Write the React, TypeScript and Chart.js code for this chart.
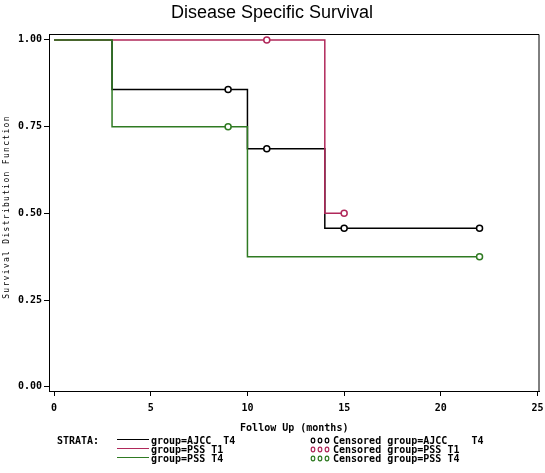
import React, { useEffect, useRef } from "react";
import { Chart, registerables } from "chart.js";

Chart.register(...registerables);

const TITLE = "Disease Specific Survival";
const X_TITLE = "Follow Up (months)";
const Y_TITLE = "Survival Distribution Function";
const X_TICKS = [0, 5, 10, 15, 20, 25];
const Y_TICKS = [0, 0.25, 0.5, 0.75, 1.0];

// Kaplan-Meier step curves (time, survival)
const AJCC_T4_TIMES = [0, 3, 10, 14, 22];
const AJCC_T4_SURV = [1.0, 0.857, 0.686, 0.457, 0.457];
const PSS_T1_TIMES = [0, 14, 15];
const PSS_T1_SURV = [1.0, 0.5, 0.5];
const PSS_T4_TIMES = [0, 3, 10, 22];
const PSS_T4_SURV = [1.0, 0.75, 0.375, 0.375];

// Censored observations
const AJCC_T4_CENS_T = [9, 11, 15, 22];
const AJCC_T4_CENS_S = [0.857, 0.686, 0.457, 0.457];
const PSS_T1_CENS_T = [11, 15];
const PSS_T1_CENS_S = [1.0, 0.5];
const PSS_T4_CENS_T = [9, 22];
const PSS_T4_CENS_S = [0.75, 0.375];

const STRATA = ["group=AJCC  T4", "group=PSS T1", "group=PSS T4"];
const CENSORED_LABELS = ["Censored group=AJCC    T4", "Censored group=PSS T1", "Censored group=PSS T4"];
const COLORS = ["#000000", "#b0285a", "#2f7a22"];

const pts = (xs: number[], ys: number[]) => xs.map((x, i) => ({ x, y: ys[i] }));

const MONO = '"DejaVu Sans Mono", monospace';

const decor = {
  id: "decor",
  afterDraw(chart: any) {
    const ctx = chart.ctx;
    const a = chart.chartArea;
    ctx.save();
    // box top/right
    ctx.strokeStyle = "#000";
    ctx.lineWidth = 1;
    ctx.beginPath();
    ctx.moveTo(a.left, a.top + 0.5);
    ctx.lineTo(a.right - 0.5, a.top + 0.5);
    ctx.lineTo(a.right - 0.5, a.bottom);
    ctx.stroke();

    // title
    ctx.fillStyle = "#000";
    ctx.font = '18px "Liberation Sans", Arial, sans-serif';
    ctx.textAlign = "center";
    ctx.textBaseline = "middle";
    ctx.fillText(TITLE, 272, 13);

    // x title
    ctx.font = "bold 10px " + MONO;
    ctx.fillText(X_TITLE, (a.left + a.right) / 2, 428);

    // y title
    ctx.save();
    ctx.translate(7, 207);
    ctx.rotate(-Math.PI / 2);
    ctx.font = "8px " + MONO;
    (ctx as any).letterSpacing = "1.3px";
    ctx.fillText(Y_TITLE, 0, 0);
    ctx.restore();

    // legend
    ctx.textAlign = "left";
    ctx.font = "bold 10px " + MONO;
    ctx.fillText("STRATA:", 57, 441);
    const rows = [441, 450, 459];
    rows.forEach((y, i) => {
      ctx.strokeStyle = COLORS[i];
      ctx.lineWidth = 1;
      ctx.beginPath();
      ctx.moveTo(117, y - 1.5);
      ctx.lineTo(149, y - 1.5);
      ctx.stroke();
      ctx.fillStyle = "#000";
      ctx.fillText(STRATA[i], 151, y);
      ctx.lineWidth = 1.2;
      [313, 320, 327].forEach((cx) => {
        ctx.beginPath();
        ctx.ellipse(cx, y - 0.5, 1.8, 2.3, 0, 0, Math.PI * 2);
        ctx.stroke();
      });
      ctx.fillText(CENSORED_LABELS[i], 333, y);
    });
    ctx.restore();
  },
};

export default function App() {
  const ref = useRef<HTMLCanvasElement>(null);
  useEffect(() => {
    document.body.style.margin = "0";
    const lineDs = (label: string, xs: number[], ys: number[], color: string, order: number) => ({
      type: "line" as const,
      label,
      data: pts(xs, ys),
      borderColor: color,
      borderWidth: 1.5,
      stepped: true,
      pointRadius: 0,
      fill: false,
      order,
    });
    const censDs = (label: string, xs: number[], ys: number[], color: string, order: number) => ({
      type: "scatter" as const,
      label,
      data: pts(xs, ys),
      borderColor: color,
      backgroundColor: "#ffffff",
      borderWidth: 1.5,
      pointRadius: 3,
      pointStyle: "circle",
      showLine: false,
      order,
    });
    const chart = new Chart(ref.current!, {
      type: "line",
      data: {
        datasets: [
          censDs(CENSORED_LABELS[2], PSS_T4_CENS_T, PSS_T4_CENS_S, COLORS[2], 0),
          censDs(CENSORED_LABELS[1], PSS_T1_CENS_T, PSS_T1_CENS_S, COLORS[1], 1),
          censDs(CENSORED_LABELS[0], AJCC_T4_CENS_T, AJCC_T4_CENS_S, COLORS[0], 2),
          lineDs(STRATA[2], PSS_T4_TIMES, PSS_T4_SURV, COLORS[2], 3),
          lineDs(STRATA[1], PSS_T1_TIMES, PSS_T1_SURV, COLORS[1], 4),
          lineDs(STRATA[0], AJCC_T4_TIMES, AJCC_T4_SURV, COLORS[0], 5),
        ] as any,
      },
      options: {
        animation: false,
        responsive: false,
        layout: { padding: { left: 0, top: 34, right: 4, bottom: 52 } },
        plugins: { legend: { display: false }, tooltip: { enabled: false }, title: { display: false } },
        scales: {
          x: {
            type: "linear",
            min: -0.26,
            max: 25.1,
            afterFit: (s: any) => {
              s.height = 30;
              s.paddingLeft = 0;
              s.paddingRight = 0;
            },
            afterBuildTicks: (s: any) => { s.ticks = X_TICKS.map((v) => ({ value: v })); },
            grid: { drawOnChartArea: false, drawTicks: true, tickLength: 5, color: "#000", lineWidth: 1 },
            border: { display: true, color: "#000", width: 1 },
            ticks: {
              color: "#000",
              font: { family: MONO, size: 10, weight: "bold" },
              padding: 6,
              maxRotation: 0,
              autoSkip: false,
              callback: (v: any) => String(v),
            },
          },
          y: {
            type: "linear",
            min: -0.012,
            max: 1.017,
            afterFit: (s: any) => {
              s.width = 49;
              s.paddingTop = 0;
              s.paddingBottom = 0;
            },
            afterBuildTicks: (s: any) => { s.ticks = Y_TICKS.map((v) => ({ value: v })); },
            grid: { drawOnChartArea: false, drawTicks: true, tickLength: 5, color: "#000", lineWidth: 1 },
            border: { display: true, color: "#000", width: 1 },
            ticks: {
              color: "#000",
              font: { family: MONO, size: 10, weight: "bold" },
              padding: 2,
              autoSkip: false,
              callback: (v: any) => Number(v).toFixed(2),
            },
          },
        },
      },
      plugins: [decor],
    });
    return () => chart.destroy();
  }, []);
  return (
    <div style={{ width: 545, height: 473, background: "#fff" }}>
      <canvas ref={ref} width={545} height={473} style={{ display: "block" }} />
    </div>
  );
}
